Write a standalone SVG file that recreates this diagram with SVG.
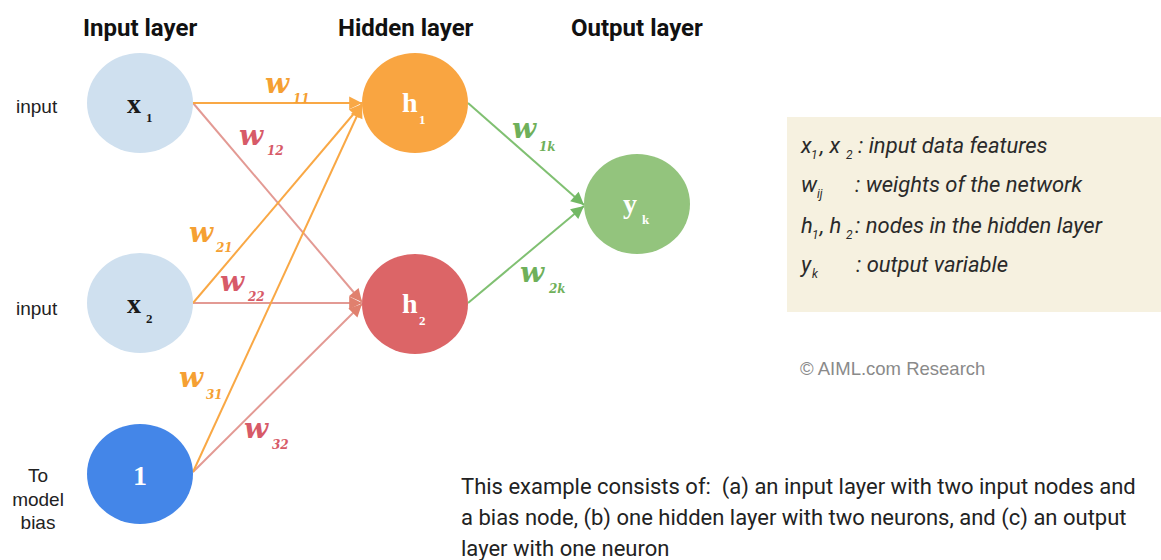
<svg xmlns="http://www.w3.org/2000/svg" width="1161" height="560" viewBox="0 0 1161 560">
  <style>
    .title { font-family: Roboto, "Liberation Sans", sans-serif; font-weight: bold; font-size: 24px; fill: #111; }
    .side { font-family: "Liberation Sans", Arial, sans-serif; font-size: 19px; fill: #222; }
    .nodeLbl { font-family: "Liberation Serif", "DejaVu Serif", serif; font-weight: bold; font-size: 28px; }
    .nodeSub { font-family: "Liberation Serif", "DejaVu Serif", serif; font-weight: bold; font-size: 13px; }
    .w { font-family: "DejaVu Serif", "Liberation Serif", serif; font-weight: bold; font-style: italic; font-size: 28px; }
    .wsub { font-family: "DejaVu Serif", "Liberation Serif", serif; font-weight: bold; font-style: italic; font-size: 12px; }
    .orange { fill: #f5a033; }
    .red { fill: #d75a68; }
    .green { fill: #6fb05a; }
    .legend { font-family: Roboto, "Liberation Sans", sans-serif; font-style: italic; font-size: 22px; fill: #2a2a2a; }
    .legendSub { font-family: Roboto, "Liberation Sans", sans-serif; font-style: italic; font-size: 12px; fill: #2a2a2a; }
    .body { font-family: Roboto, "Liberation Sans", sans-serif; font-size: 22px; fill: #222; }
    .copy { font-family: "Liberation Sans", Arial, sans-serif; font-size: 18.5px; fill: #8a8a8a; }
    .eOrange { stroke: #f9a845; stroke-width: 2; fill: none; }
    .eRed { stroke: #e39a94; stroke-width: 2; fill: none; }
    .eGreen { stroke: #80c072; stroke-width: 2; fill: none; }
  </style>
  <defs>
    <marker id="arrOrange" viewBox="0 0 10 10" refX="10" refY="5" markerWidth="8" markerHeight="8" markerUnits="userSpaceOnUse" orient="auto" style="overflow:visible">
      <path d="M0,0 L10,5 L0,10 z" fill="#f9a845" transform="scale(1.6) translate(-3.75,-1.9)"/>
    </marker>
    <marker id="arrRed" viewBox="0 0 10 10" refX="10" refY="5" markerWidth="8" markerHeight="8" markerUnits="userSpaceOnUse" orient="auto" style="overflow:visible">
      <path d="M0,0 L10,5 L0,10 z" fill="#e0806e" transform="scale(1.6) translate(-3.75,-1.9)"/>
    </marker>
    <marker id="arrGreen" viewBox="0 0 10 10" refX="10" refY="5" markerWidth="8" markerHeight="8" markerUnits="userSpaceOnUse" orient="auto" style="overflow:visible">
      <path d="M0,0 L10,5 L0,10 z" fill="#72b864" transform="scale(1.6) translate(-3.75,-1.9)"/>
    </marker>
  </defs>

  <rect width="1161" height="560" fill="#ffffff"/>

  <!-- layer titles -->
  <text class="title" x="83" y="36">Input layer</text>
  <text class="title" x="338" y="36">Hidden layer</text>
  <text class="title" x="571" y="36">Output layer</text>

  <!-- side notes -->
  <text class="side" x="16" y="113">input</text>
  <text class="side" x="16" y="315">input</text>
  <text class="side" text-anchor="middle" x="38" y="482">To</text>
  <text class="side" text-anchor="middle" x="38" y="506">model</text>
  <text class="side" text-anchor="middle" x="38" y="529">bias</text>

  <!-- connectors -->
  <g id="connectors">
    <line class="eRed" x1="193" y1="103" x2="362" y2="302" marker-end="url(#arrRed)"/>
    <line class="eRed" x1="193" y1="303" x2="362" y2="303" marker-end="url(#arrRed)"/>
    <line class="eRed" x1="193" y1="472" x2="362" y2="304" marker-end="url(#arrRed)"/>
    <line class="eOrange" x1="193" y1="103" x2="362" y2="103" marker-end="url(#arrOrange)"/>
    <line class="eOrange" x1="193" y1="303" x2="362" y2="104" marker-end="url(#arrOrange)"/>
    <line class="eOrange" x1="193" y1="472" x2="362" y2="105" marker-end="url(#arrOrange)"/>
    <line class="eGreen" x1="468" y1="103" x2="584" y2="205" marker-end="url(#arrGreen)"/>
    <line class="eGreen" x1="468" y1="303" x2="584" y2="206" marker-end="url(#arrGreen)"/>
  </g>

  <!-- weight labels -->
  <g id="weights">
    <text class="w orange" x="265" y="93">w</text><text class="wsub orange" x="293" y="103">11</text>
    <text class="w red" x="239" y="145">w</text><text class="wsub red" x="267" y="155">12</text>
    <text class="w orange" x="189" y="242">w</text><text class="wsub orange" x="216" y="252">21</text>
    <text class="w red" x="220" y="291">w</text><text class="wsub red" x="248" y="301">22</text>
    <text class="w orange" x="179" y="387">w</text><text class="wsub orange" x="206" y="399">31</text>
    <text class="w red" x="244" y="438">w</text><text class="wsub red" x="272" y="449">32</text>
    <text class="w green" x="512" y="138">w</text><text class="wsub green" x="539" y="151">1k</text>
    <text class="w green" x="520" y="282">w</text><text class="wsub green" x="549" y="293">2k</text>
  </g>

  <!-- input layer -->
  <g id="node-x1">
    <ellipse cx="140" cy="103" rx="53" ry="50" fill="#cfe0ef"/>
    <text class="nodeLbl" x="127" y="113" fill="#1a1a1a">x</text>
    <text class="nodeSub" x="146" y="122" fill="#1a1a1a">1</text>
  </g>
  <g id="node-x2">
    <ellipse cx="140" cy="303" rx="53" ry="50" fill="#cfe0ef"/>
    <text class="nodeLbl" x="127" y="313" fill="#1a1a1a">x</text>
    <text class="nodeSub" x="146" y="323" fill="#1a1a1a">2</text>
  </g>
  <g id="node-bias">
    <ellipse cx="140" cy="474" rx="53" ry="50" fill="#4486e8"/>
    <text class="nodeLbl" x="140" y="485" fill="#ffffff" text-anchor="middle" font-size="21">1</text>
  </g>

  <!-- hidden layer -->
  <g id="node-h1">
    <ellipse cx="415" cy="103" rx="53" ry="50" fill="#f9a541"/>
    <text class="nodeLbl" x="402" y="112" fill="#ffffff">h</text>
    <text class="nodeSub" x="419" y="124" fill="#ffffff">1</text>
  </g>
  <g id="node-h2">
    <ellipse cx="415" cy="304" rx="53" ry="50" fill="#dc6567"/>
    <text class="nodeLbl" x="402" y="313" fill="#ffffff">h</text>
    <text class="nodeSub" x="419" y="325" fill="#ffffff">2</text>
  </g>

  <!-- output layer -->
  <g id="node-yk">
    <ellipse cx="637" cy="204" rx="53" ry="50" fill="#93c47d"/>
    <text class="nodeLbl" x="623" y="213" fill="#ffffff">y</text>
    <text class="nodeSub" x="642" y="224" fill="#ffffff">k</text>
  </g>

  <!-- notation legend -->
  <g id="legend">
    <rect x="787" y="117" width="374" height="195" fill="#f6f1e0"/>
    <text class="legend" x="801" y="153">x</text><text class="legendSub" x="811" y="159">1</text>
    <text class="legend" x="820" y="153">, x</text><text class="legendSub" x="846" y="159">2</text>
    <text class="legend" x="858" y="153">: input data features</text>
    <text class="legend" x="801" y="192">w</text><text class="legendSub" x="817" y="198">ij</text>
    <text class="legend" x="855" y="192">: weights of the network</text>
    <text class="legend" x="801" y="233">h</text><text class="legendSub" x="812" y="239">1</text>
    <text class="legend" x="820" y="233">, h</text><text class="legendSub" x="846" y="239">2</text>
    <text class="legend" x="855" y="233">: nodes in the hidden layer</text>
    <text class="legend" x="801" y="272">y</text><text class="legendSub" x="812" y="278">k</text>
    <text class="legend" x="856" y="272">: output variable</text>
  </g>

  <text class="copy" x="800" y="375">© AIML.com Research</text>

  <!-- caption -->
  <g id="caption">
    <text class="body" x="461" y="494">This example consists of:&#160; (a) an input layer with two input nodes and</text>
    <text class="body" x="461" y="525">a bias node, (b) one hidden layer with two neurons, and (c) an output</text>
    <text class="body" x="461" y="556">layer with one neuron</text>
  </g>
</svg>
